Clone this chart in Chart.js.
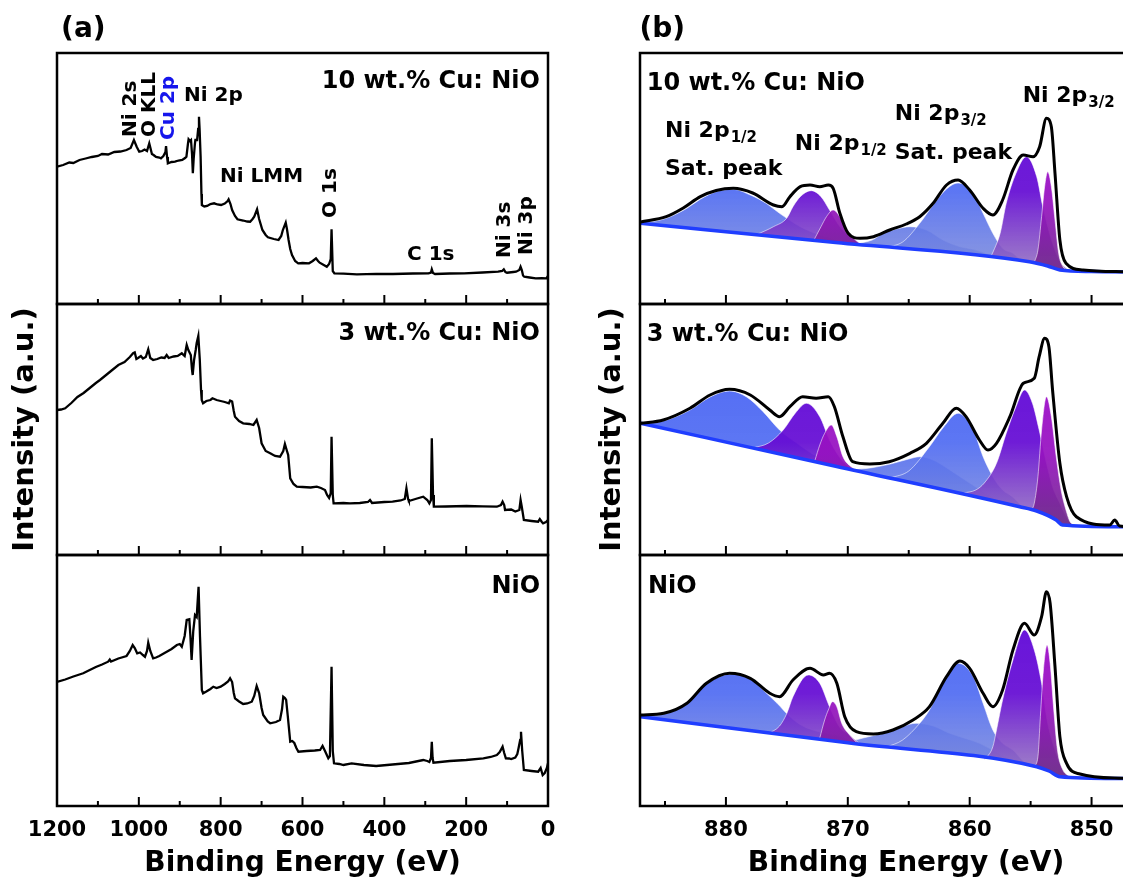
<!DOCTYPE html>
<html><head><meta charset="utf-8">
<script src="https://cdn.jsdelivr.net/npm/chart.js@4.4.1/dist/chart.umd.min.js"></script>
<style>
html,body{margin:0;padding:0;background:#fff;width:1123px;height:880px;overflow:hidden;position:relative}
canvas{position:absolute}
</style></head><body>
<canvas id="a1" width="560" height="309" style="left:0;top:0"></canvas>
<canvas id="a2" width="560" height="291" style="left:0;top:284px"></canvas>
<canvas id="a3" width="560" height="336" style="left:0;top:550px"></canvas>
<canvas id="b1" width="610" height="309" style="left:570px;top:0"></canvas>
<canvas id="b2" width="610" height="291" style="left:570px;top:284px"></canvas>
<canvas id="b3" width="610" height="336" style="left:570px;top:550px"></canvas>
<script>
// ---------- tick values ----------
const leftMajor = [0,200,400,600,800,1000,1200];
const leftMinor = [100,300,500,700,900,1100];
const rightMajor = [850,860,870,880];
const rightMinor = [845,855,865,875,885];

// ---------- (a) survey spectra: [binding energy, intensity] ----------
const survey10 = [[1200,137.3],[1185,139],[1170,141.5],[1160,141],[1145,144],[1130,145.5],[1115,147],[1100,148],[1090,150],[1075,149.5],[1060,152],[1045,152.5],[1030,154],[1020,156],[1012,164],[1005,157],[999,152.3],[992,153],[986,154.5],[980,153],[974.5,160.7],[968,150],[964,149],[958,147],[950,146.5],[946,145.7],[940,148],[935,152],[933.5,158],[931,147],[929,140.7],[920,142],[911.6,142.3],[903,143.5],[894,144],[887,146],[883.7,147.3],[880,160],[878.4,164.7],[875,163],[872.5,164],[870,150],[868,130.7],[866,145],[863,160],[861.8,164],[857.6,164],[855,175],[853,187.3],[851.5,175],[849,147.3],[847,110],[846,99],[840,97.5],[833,98],[825,100],[816,100.7],[808,99.5],[799,99],[790,100.5],[783,103],[780.6,104.7],[776,100],[772,94],[765,88],[759,84.7],[745,83.5],[735,82.5],[728,82.3],[722,85],[718,87.3],[711,94.7],[706,85],[698,74],[690,69],[684.5,66.7],[670,65],[658.5,64],[652,68],[648,74],[641,81.3],[638,75],[634,64],[630,55],[625.6,49],[618,43],[610.5,40.7],[600,41],[584,40.7],[575,43],[567,45.7],[562,43],[558,41.3],[548,39],[540.6,37.3],[535,40],[531,45],[529,74.7],[526,33],[522,30.7],[500,30.3],[467,29.7],[420,30.2],[379,30],[330,30.5],[292,30.7],[286,31.5],[284,34.7],[281,31],[276,30],[240,30.5],[205,30.7],[160,31.5],[122,32.3],[112,33],[108,34.7],[104,32],[100,31.3],[85,32],[78,32.3],[70,34],[67,37.3],[64,34],[61,28.5],[58,27.3],[45,26.5],[30,25.7],[15,25.8],[4,25.7],[0,28]];
const survey3 = [[1200,145],[1190,145.5],[1180,146.7],[1165,152],[1150,158],[1135,162],[1120,167],[1105,172],[1095,175],[1080,180],[1065,185],[1050,190],[1035,193],[1022,198],[1014,201.7],[1010,202.5],[1006,196],[1002,197],[995,199],[990,196.5],[983,198],[977,205.7],[972,197],[965,195],[955,196],[945,197.5],[937,197],[932,200],[927,197],[915,198.5],[905,199],[895,201.7],[888,199],[883,210],[879,205],[873,200],[870,185],[868.4,180],[865,195],[861,205],[858.6,212],[854.6,219],[851,195],[848,165],[846.3,155],[843,151.7],[835,154],[825,155],[820,156.7],[810,155],[800,154],[790,153],[780,151.7],[777,154.5],[772,153.4],[768,144],[765,138.3],[755,134],[745,131.7],[730,131],[720,130],[712,135],[706,127],[700,111.7],[690,104],[679,101.7],[667,99],[655,98.3],[647,104],[643,111],[638,104],[635,100],[630,76.7],[622,71],[614,68.3],[600,68],[580,67.5],[565,68.3],[555,67],[545,65],[540,60],[535,57],[531,62],[529,118.3],[526,60],[524,51.7],[500,52],[484,51.7],[460,52],[440,53],[435,55],[430,52],[400,53],[380,53.3],[360,54.5],[350,56],[346,66.7],[342,56],[340,54],[320,56.5],[305,58.3],[295,55],[290,51.7],[286,55],[284,116.7],[281,60],[279,48.3],[250,48.5],[199,49],[160,48.7],[125,48.3],[115,50],[111,53.3],[107,50],[105,45],[90,45.5],[80,43.5],[70,45],[67,55],[64,48],[59,35],[40,34],[24,33.3],[20,36],[15,33],[12,31.7],[5,33],[0,35]];
const surveyNiO = [[1200,124],[1180,126.5],[1160,129.5],[1136,132.7],[1120,136],[1105,139],[1090,141.5],[1075,144.3],[1071,146.5],[1068,144.5],[1050,147.5],[1030,150],[1022,155],[1015,161],[1010,158],[1004,152.7],[997,153.5],[990,151],[985,149.3],[980,155],[977,163.3],[972,155],[965,147.7],[958,148.5],[950,150],[935,153.5],[920,157],[907,161],[900,162],[895,159.3],[888,170],[883,186],[876.6,186.7],[874,170],[871,146],[867,175],[862.7,191],[858.6,189],[854,219.3],[850.5,169.3],[846,116],[843,112.7],[835,114.5],[825,117],[818,119.3],[810,118],[800,119.3],[790,122],[782,124.5],[777,127.7],[772,124],[768,113],[765,107.7],[755,104.5],[745,102],[735,102.5],[724,104.3],[718,110],[712,120],[706,113],[700,98],[696,91],[685,84.5],[679,82.7],[665,84],[655,86],[650,97],[647,109.3],[643,108],[640,106],[636,90],[630,64.3],[625,65],[620,63],[615,58],[610,54.3],[590,55],[570,55.5],[557,56],[551,60],[545,55],[537,47.7],[533,50],[529,139.3],[526,55],[523,42.7],[510,42],[500,41],[480,42.7],[450,41],[420,40],[380,41.5],[340,43],[305,46],[295,45],[290,44],[286,48],[284,64.3],[282,48],[280,43.3],[240,45],[200,46],[158,47.7],[140,49],[125,51],[118,54],[111,59.3],[107,53],[103,47.7],[95,47.5],[90,47],[80,48.5],[75,52],[72,57.7],[68,66],[66,74.3],[63,55],[59,36],[40,35],[24,34.3],[18,38],[13,31],[8,33],[3,37.7],[0,42.7]];

// ---------- (b) Ni 2p, 10 wt.% Cu ----------
const env10 = [[887,82],[884.9,87.3],[883.5,96],[882.1,107.3],[880.8,113.5],[879.4,115.7],[877.8,111],[876.1,99],[875.4,97.3],[874.75,107.3],[873.9,117.3],[873.1,119],[872.3,117.3],[871.6,119],[871.2,115.7],[870.65,90.7],[869.97,70.7],[869,65.7],[867.9,67.3],[866.56,74],[865.2,80],[864.1,87.3],[863,100.7],[861.9,119],[860.95,124],[860,114],[858.9,95.7],[858.1,89],[857.3,104],[856.45,134],[855.6,149],[854.8,147.3],[854.26,157.3],[853.7,185.7],[853.3,177.3],[853,130.7],[852.6,64],[852.1,40.7],[850.7,34],[847.5,32.3],[843.4,32]];
const bg10 = [[887,80.7],[871,61.5],[855.1,42.3],[853.6,38],[852.6,34],[850,32.5],[843.4,32]];
const sat12_10 = [[887,80.7],[886.6,81.3],[884.9,85.7],[883.2,95.7],[882.1,104.7],[880.8,112.3],[879.4,114.7],[878,109],[876.7,100.7],[875.6,90.7],[873.9,77.3],[872.3,69],[870.65,63],[869.3,60]];
const p12a_10 = [[877.5,69.3],[876.1,77.3],[875,86],[874.5,97.3],[873.9,107.3],[873,113.3],[872.2,107.3],[871.5,94],[870.65,77.3],[869.8,67.3],[868.8,59]];
const p12b_10 = [[872.8,63.5],[872.2,77.3],[871.75,87.3],[871.2,94],[870.65,87.3],[870.1,74],[869.6,66.7],[869,60.5],[868.5,58.7]];
const small_10 = [[869.5,60],[868,64],[867.1,70.7],[866,75],[864.9,77.3],[863.55,74],[862.2,64],[860.8,57.3],[859.7,54.7],[858.5,50],[857.5,46.5]];
const sat32_10 = [[867,56.5],[865.5,62],[864.1,80.7],[863,99],[861.9,115],[860.95,121],[859.7,110.7],[858.9,90.7],[858.1,70.7],[857.3,55.7],[856.45,50.7],[855.8,44]];
const p32a_10 = [[858.3,46.5],[857.95,55.7],[857.5,70.7],[857,100.7],[856.2,130.7],[855.35,147.3],[854.5,127.3],[854,97.3],[853.45,70.7],[852.9,50.7],[852.5,40.7],[852,35]];
const p32b_10 = [[854.7,41.5],[854.4,54],[854.1,87.3],[853.85,117.3],[853.6,132.3],[853.3,117.3],[853,84],[852.7,50.7],[852.35,37.3],[852,34]];

// ---------- (b) Ni 2p, 3 wt.% Cu ----------
const env3 = [[887,131.7],[885.14,135],[882.95,146.7],[881.3,160],[879.7,165.7],[878,160],[876.4,145],[875.6,138.3],[874.75,148.3],[873.7,158.3],[872.6,156.7],[871.6,158.3],[871.1,148.3],[870.4,118.3],[869.6,93.3],[868.2,91],[866.6,93.3],[864.9,101.7],[863.55,111.7],[862.2,131.7],[861.1,146.7],[860.3,138.3],[859.2,115],[858.5,105],[857.8,111.7],[856.7,138.3],[855.6,171.7],[854.7,176.7],[854.3,198.3],[853.85,216.7],[853.5,208.3],[853.2,165],[852.6,91.7],[852.05,58.3],[851.25,38.3],[848.5,30],[848.1,35],[847.7,29],[843.4,27]];
const bg3 = [[887,131.7],[871,88.8],[855.9,48.3],[854.5,44],[852.9,35],[852.4,30],[847.5,28.3],[843.4,27.5]];
const sat12_3 = [[887,131.7],[885.14,134],[882.95,145],[881.3,158],[879.7,164],[878.3,158],[876.95,143.3],[875.6,125],[874.2,112],[872.6,99],[871,91],[869.8,86]];
const p12a_3 = [[877.8,107],[876.5,112],[875.3,125],[874.3,142],[873.4,151.7],[872.3,138.3],[871.5,115],[870.7,98.3],[869.9,88],[869.2,84]];
const p12b_3 = [[872.7,94.5],[872.3,110],[871.9,121.7],[871.35,130],[870.9,118.3],[870.4,98.3],[869.7,88],[869,83.5]];
const small_3 = [[869.8,85.7],[868.5,86.5],[866.5,91],[865,96],[864.1,98.3],[863,95],[862,88],[861,80],[860,72],[859,64],[857.5,54],[856.8,51]];
const sat32_3 = [[866.5,77],[865,84],[863.3,108.3],[862.2,127],[860.95,141.7],[859.7,125],[858.9,98.3],[858.1,78.3],[857.3,65],[856.5,58.3],[855.8,50]];
const p32a_3 = [[860.5,62],[859.5,65],[858.8,72],[857.8,91.7],[857,121.7],[856.2,148.3],[855.5,165],[854.85,151.7],[854.3,125],[853.7,91.7],[853.2,68.3],[852.6,51.7],[852.35,45],[851.8,33],[851.3,30]];
const p32b_3 = [[854.9,45],[854.7,51.7],[854.4,78.3],[854.1,125],[853.7,158.3],[853.3,138.3],[852.9,98.3],[852.5,65],[852.1,45],[851.7,32],[851.2,29.5]];

// ---------- (b) Ni 2p, NiO ----------
const envN = [[887,91],[885.1,92.7],[883.2,102.7],[881.6,122.7],[879.7,132.7],[878,127.7],[876.4,112.7],[875.6,109.3],[874.5,126],[873.1,137.7],[872,131],[871.5,132.7],[870.9,122.7],[870.25,89.3],[869.3,74.3],[867.9,72],[866.3,76],[864.65,86],[863.3,99.3],[861.9,129.3],[860.8,145],[860,137.7],[858.9,112.7],[858.1,99.3],[857.3,116],[856.45,156],[855.5,182.7],[854.7,171],[854.1,189.3],[853.7,214.3],[853.4,202.7],[853,139.3],[852.6,69.3],[852.05,42.7],[850.95,32],[847.5,27.7],[843.4,27]];
const bgN = [[887,89.3],[870,63.2],[854.5,39.3],[853.5,35],[852.6,29.3],[847.5,27.5],[843.4,27]];
const sat12_N = [[887,89.5],[885.1,92],[883.2,102],[881.6,122],[879.5,132],[878,127],[876.95,116],[875.8,102.7],[874.75,89.3],[873.7,80],[872.6,75],[871.5,72],[870.2,68],[869.5,63]];
const p12a_N = [[876.5,72.5],[875.6,80],[875,92.7],[874.5,109.3],[873.25,131],[872.3,122.7],[871.5,99.3],[870.7,79.3],[869.85,71],[869,62]];
const p12b_N = [[872.3,68],[871.9,86],[871.6,96],[871.25,104.3],[870.9,99.3],[870.5,82.7],[869.85,71],[869.2,62.5]];
const small_N = [[870,63.7],[868.75,68],[866.55,74.3],[864.4,82.7],[863,80],[861.65,72.7],[859.2,62.7],[857.8,54],[856.3,45],[855.5,41.5]];
const sat32_N = [[866.8,59],[865.5,66],[864.1,82.7],[863.3,96],[862.2,122.7],[860.95,142.7],[859.7,129.3],[858.9,102.7],[858.1,76],[857.3,62.7],[856.45,56],[855.6,45],[855,40.5]];
const p32a_N = [[858.8,46],[858.1,59.3],[857.8,76],[857.3,106],[856.45,146],[855.5,176],[854.7,156],[854.1,122.7],[853.6,82.7],[853,56],[852.5,39.3],[852,31],[851.5,29]];
const p32b_N = [[854.7,39.5],[854.4,49.3],[854.2,89.3],[853.95,136],[853.65,161],[853.4,142.7],[853.1,96],[852.8,56],[852.35,36],[851.9,30]];

// ---------- styling / helpers ----------
const FONT = "'DejaVu Sans', 'Liberation Sans', sans-serif";
const xy = a => a.map(p => ({x: p[0], y: p[1]}));
const STOPS = {
  blue:    [[0,'rgba(66,92,246,0.96)'],[0.55,'rgba(80,108,242,0.93)'],[0.95,'rgba(138,148,212,0.86)']],
  purple:  [[0,'rgba(92,4,222,0.97)'],[0.55,'rgba(102,14,212,0.94)'],[0.95,'rgba(158,138,186,0.86)']],
  magenta: [[0,'rgba(168,8,212,0.97)'],[0.6,'rgba(150,18,192,0.93)'],[0.95,'rgba(100,50,122,0.9)']]
};
function grad(kind) {
  return ctx => {
    const ch = ctx.chart, a = ch.chartArea;
    if (!a) return STOPS[kind][0][1];
    const g = ch.ctx.createLinearGradient(0, a.top, 0, a.bottom);
    STOPS[kind].forEach(s => g.addColorStop(s[0], s[1]));
    return g;
  };
}
function peak(arr, kind, order) {
  return {data: xy(arr), fill: 1, backgroundColor: grad(kind), borderColor: 'rgba(255,255,255,0.55)',
          borderWidth: 1, pointRadius: 0, cubicInterpolationMode: 'monotone', order};
}
function niSets(env, bg, a, b, c, d, e, f, g) {
  return [
    {data: xy(env), borderColor: '#000', borderWidth: 3, fill: false, pointRadius: 0, cubicInterpolationMode: 'monotone', order: 0},
    {data: xy(bg), borderColor: '#1f3dff', borderWidth: 3.5, fill: false, pointRadius: 0, cubicInterpolationMode: 'monotone', order: 1},
    peak(a, 'blue', 8), peak(b, 'purple', 5), peak(c, 'magenta', 3),
    peak(d, 'blue', 7), peak(e, 'blue', 6), peak(f, 'purple', 4), peak(g, 'magenta', 2)
  ];
}
function survey(arr) {
  return [{data: xy(arr), borderColor: '#000', borderWidth: 2.3, fill: false, pointRadius: 0, tension: 0}];
}

const framePlugin = {
  id: 'frame',
  afterDraw(chart, args, opts) {
    const {ctx, chartArea: a, scales: {x, y}} = chart;
    ctx.save();
    ctx.strokeStyle = '#000';
    ctx.lineWidth = 2.5;
    ctx.strokeRect(a.left, a.top, a.right - a.left, a.bottom - a.top);
    ctx.lineWidth = 2;
    const tick = (v, len) => {
      const px = x.getPixelForValue(v);
      if (px < a.left - 1 || px > a.right + 1) return;
      ctx.beginPath(); ctx.moveTo(px, a.bottom); ctx.lineTo(px, a.bottom - len); ctx.stroke();
    };
    opts.major.forEach(v => tick(v, 9));
    opts.minor.forEach(v => tick(v, 5));
    for (const L of opts.labels) {
      const px = x.getPixelForValue(L.x), py = y.getPixelForValue(L.y);
      ctx.fillStyle = L.color || '#000';
      ctx.font = 'bold ' + L.size + 'px ' + FONT;
      if (L.rot) {
        ctx.save(); ctx.translate(px, py); ctx.rotate(-Math.PI / 2);
        ctx.textAlign = 'left'; ctx.textBaseline = 'middle'; ctx.fillText(L.t, 0, 0);
        ctx.restore();
      } else {
        ctx.textAlign = L.align || 'left'; ctx.textBaseline = 'alphabetic';
        ctx.fillText(L.t, px, py);
        if (L.sub) {
          const w = ctx.measureText(L.t).width;
          ctx.font = 'bold ' + Math.round(L.size * 0.68) + 'px ' + FONT;
          ctx.textAlign = 'left';
          ctx.fillText(L.sub, px + w + 1, py + 5);
        }
      }
    }
    ctx.restore();
  }
};

function makeChart(id, o) {
  return new Chart(document.getElementById(id), {
    type: 'line',
    data: {datasets: o.datasets},
    options: {
      responsive: false, animation: false, devicePixelRatio: 1,
      layout: {padding: {top: o.pad[0], bottom: o.pad[1], left: 0, right: o.right}},
      plugins: {legend: {display: false}, tooltip: {enabled: false},
                frame: {major: o.major, minor: o.minor, labels: o.labels}},
      scales: {
        x: {type: 'linear', min: o.xmin, max: o.xmax, reverse: true, display: !!o.showX,
            grid: {display: false}, border: {display: false},
            ticks: {stepSize: o.step, includeBounds: false, color: '#000', padding: 4, maxRotation: 0, autoSkip: false,
                    font: {family: FONT, size: 21, weight: 'bold'}, callback: v => String(v)},
            title: {display: !!o.showX, text: 'Binding Energy (eV)', color: '#000',
                    font: {family: FONT, size: 28, weight: 'bold'}, padding: {top: 0, bottom: 5}},
            afterFit: s => { s.height = o.showX ? 80 : 0; }},
        y: {type: 'linear', min: 0, max: 251, display: true,
            grid: {display: false}, border: {display: false}, ticks: {display: false},
            title: {display: !!o.yTitle, text: 'Intensity (a.u.)', color: '#000',
                    font: {family: FONT, size: 29, weight: 'bold'}, padding: {top: o.yPad, bottom: 0}},
            afterFit: s => { s.width = o.yw; }}
      }
    },
    plugins: [framePlugin]
  });
}

const L = {
  a1: [
    {t: '(a)', x: 1190, y: 267, size: 28},
    {t: '10 wt.% Cu: NiO', x: 19.6, y: 215.7, size: 24, align: 'right'},
    {t: 'Ni 2s', x: 1019, y: 167, size: 20, rot: true},
    {t: 'O KLL', x: 972.7, y: 167, size: 20, rot: true},
    {t: 'Cu 2p', x: 926.3, y: 164, size: 20, rot: true, color: '#1616ec'},
    {t: 'Ni 2p', x: 889.6, y: 203, size: 20},
    {t: 'Ni LMM', x: 801.6, y: 122, size: 20},
    {t: 'O 1s', x: 530.3, y: 86, size: 20, rot: true},
    {t: 'C 1s', x: 344.6, y: 44, size: 20},
    {t: 'Ni 3s', x: 105, y: 46, size: 20, rot: true},
    {t: 'Ni 3p', x: 51.3, y: 49, size: 20, rot: true}
  ],
  a2: [{t: '3 wt.% Cu: NiO', x: 19.6, y: 215, size: 24, align: 'right'}],
  a3: [{t: 'NiO', x: 19.3, y: 213, size: 24, align: 'right'}],
  b1: [
    {t: '(b)', x: 887.1, y: 267, size: 28},
    {t: '10 wt.% Cu: NiO', x: 886.5, y: 214, size: 24},
    {t: 'Ni 2p', sub: '1/2', x: 885.0, y: 167.3, size: 22},
    {t: 'Sat. peak', x: 885.0, y: 129, size: 22},
    {t: 'Ni 2p', sub: '1/2', x: 874.35, y: 154, size: 22},
    {t: 'Ni 2p', sub: '3/2', x: 866.15, y: 184, size: 22},
    {t: 'Sat. peak', x: 866.15, y: 145, size: 22},
    {t: 'Ni 2p', sub: '3/2', x: 855.65, y: 202.3, size: 22}
  ],
  b2: [{t: '3 wt.% Cu: NiO', x: 886.5, y: 214, size: 24}],
  b3: [{t: 'NiO', x: 886.4, y: 213, size: 24}]
};

const leftBase = {xmin: 0, xmax: 1200, step: 200, yw: 57, right: 12, major: leftMajor, minor: leftMinor, yPad: 8};
const rightBase = {xmin: 843.4, xmax: 887.05, step: 10, yw: 70, right: 8, major: rightMajor, minor: rightMinor, yPad: 25};

makeChart('a1', Object.assign({}, leftBase, {datasets: survey(survey10), pad: [53, 5], labels: L.a1}));
makeChart('a2', Object.assign({}, leftBase, {datasets: survey(survey3), pad: [20, 20], labels: L.a2, yTitle: true}));
makeChart('a3', Object.assign({}, leftBase, {datasets: survey(surveyNiO), pad: [5, 0], labels: L.a3, showX: true}));
makeChart('b1', Object.assign({}, rightBase, {datasets: niSets(env10, bg10, sat12_10, p12a_10, p12b_10, small_10, sat32_10, p32a_10, p32b_10), pad: [53, 5], labels: L.b1}));
makeChart('b2', Object.assign({}, rightBase, {datasets: niSets(env3, bg3, sat12_3, p12a_3, p12b_3, small_3, sat32_3, p32a_3, p32b_3), pad: [20, 20], labels: L.b2, yTitle: true}));
makeChart('b3', Object.assign({}, rightBase, {datasets: niSets(envN, bgN, sat12_N, p12a_N, p12b_N, small_N, sat32_N, p32a_N, p32b_N), pad: [5, 0], labels: L.b3, showX: true}));
</script>
</body></html>
